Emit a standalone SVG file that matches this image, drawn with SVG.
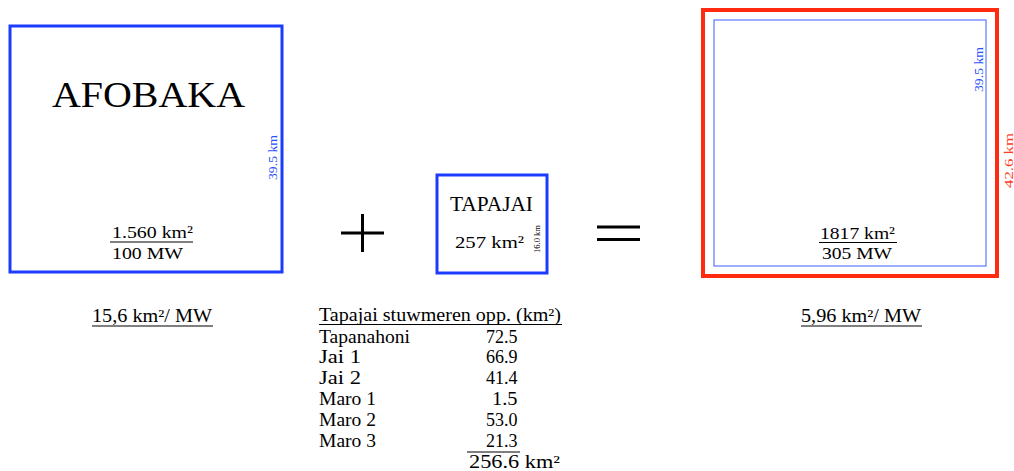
<svg xmlns="http://www.w3.org/2000/svg" width="1014" height="471" viewBox="0 0 1014 471">
<style>
text{font-family:"Liberation Serif","Times New Roman",serif;fill:#000}
.blue{stroke:#1a3cff;fill:none}
.lbl-b{fill:#2a4fff;font-size:13px}
.lbl-r{fill:#ff3b1f;font-size:13px}
.f17{font-size:17px}
.f18{font-size:18px}
.ln{stroke:#000;stroke-width:1.2}
.sym{stroke:#000;stroke-width:3}
</style>
<rect width="1014" height="471" fill="#fff"/>
<g id="afobaka">
<rect x="10" y="26" width="272" height="246" class="blue" stroke-width="3"/>
<text x="52" y="107" font-size="36" textLength="193" lengthAdjust="spacingAndGlyphs">AFOBAKA</text>
<text class="lbl-b" transform="translate(277,180) rotate(-90)" textLength="45" lengthAdjust="spacingAndGlyphs">39.5 km</text>
<text class="f17" x="112" y="238" textLength="81" lengthAdjust="spacingAndGlyphs">1.560 km²</text>
<line x1="110" y1="242" x2="193" y2="242" class="ln"/>
<text class="f17" x="112" y="259" textLength="71" lengthAdjust="spacingAndGlyphs">100 MW</text>
</g>
<g id="plus">
<line x1="341" y1="233" x2="384" y2="233" class="sym"/>
<line x1="362.5" y1="214" x2="362.5" y2="252" class="sym"/>
</g>
<g id="tapajai">
<rect x="437" y="175" width="110" height="98" class="blue" stroke-width="3"/>
<text x="450" y="211" font-size="20" textLength="83" lengthAdjust="spacingAndGlyphs">TAPAJAI</text>
<text class="f17" x="455" y="248" textLength="69" lengthAdjust="spacingAndGlyphs">257 km²</text>
<text fill="#2a4fff" font-size="9" transform="translate(540,253) rotate(-90)" textLength="28" lengthAdjust="spacingAndGlyphs">16.0 km</text>
</g>
<g id="equals">
<line x1="597" y1="227" x2="640" y2="227" class="sym"/>
<line x1="597" y1="239.5" x2="640" y2="239.5" class="sym"/>
</g>
<g id="total">
<rect x="703" y="10" width="294" height="266" fill="none" stroke="#ff2a10" stroke-width="4"/>
<rect x="714" y="20" width="272" height="246" fill="none" stroke="#3a5cff" stroke-width="1"/>
<text class="lbl-b" transform="translate(983,92) rotate(-90)" textLength="45" lengthAdjust="spacingAndGlyphs">39.5 km</text>
<text class="lbl-r" transform="translate(1013,188) rotate(-90)" textLength="55" lengthAdjust="spacingAndGlyphs">42.6 km</text>
<text class="f17" x="820" y="239" textLength="75" lengthAdjust="spacingAndGlyphs">1817 km²</text>
<line x1="819" y1="242.5" x2="897" y2="242.5" class="ln"/>
<text class="f17" x="822" y="259" textLength="70" lengthAdjust="spacingAndGlyphs">305 MW</text>
</g>
<g id="ratio-afobaka">
<text class="f18" x="92" y="322" textLength="120" lengthAdjust="spacingAndGlyphs">15,6 km²/ MW</text>
<line x1="92" y1="326" x2="213" y2="326" class="ln"/>
</g>
<g id="ratio-total">
<text class="f18" x="801" y="322" textLength="120" lengthAdjust="spacingAndGlyphs">5,96 km²/ MW</text>
<line x1="801" y1="326" x2="922" y2="326" class="ln"/>
</g>
<g id="table">
<text class="f18" x="319" y="321" textLength="242" lengthAdjust="spacingAndGlyphs">Tapajai stuwmeren opp. (km²)</text>
<line x1="319" y1="324.5" x2="562" y2="324.5" class="ln"/>
<text class="f18" x="319" y="343" textLength="91" lengthAdjust="spacingAndGlyphs">Tapanahoni</text>
<text class="f18" x="319" y="363" textLength="42" lengthAdjust="spacingAndGlyphs">Jai 1</text>
<text class="f18" x="319" y="384" textLength="42" lengthAdjust="spacingAndGlyphs">Jai 2</text>
<text class="f18" x="319" y="405" textLength="57" lengthAdjust="spacingAndGlyphs">Maro 1</text>
<text class="f18" x="319" y="426" textLength="57" lengthAdjust="spacingAndGlyphs">Maro 2</text>
<text class="f18" x="319" y="447" textLength="57" lengthAdjust="spacingAndGlyphs">Maro 3</text>
<text class="f18" x="486" y="343" textLength="31.5" lengthAdjust="spacingAndGlyphs">72.5</text>
<text class="f18" x="486" y="363" textLength="31.5" lengthAdjust="spacingAndGlyphs">66.9</text>
<text class="f18" x="486" y="384" textLength="31.5" lengthAdjust="spacingAndGlyphs">41.4</text>
<text class="f18" x="492" y="405" textLength="25.5" lengthAdjust="spacingAndGlyphs">1.5</text>
<text class="f18" x="486" y="426" textLength="31.5" lengthAdjust="spacingAndGlyphs">53.0</text>
<text class="f18" x="486" y="447" textLength="31.5" lengthAdjust="spacingAndGlyphs">21.3</text>
<line x1="467" y1="452" x2="520" y2="452" class="ln"/>
<text class="f18" x="469" y="468" textLength="91" lengthAdjust="spacingAndGlyphs">256.6 km²</text>
</g>
</svg>
